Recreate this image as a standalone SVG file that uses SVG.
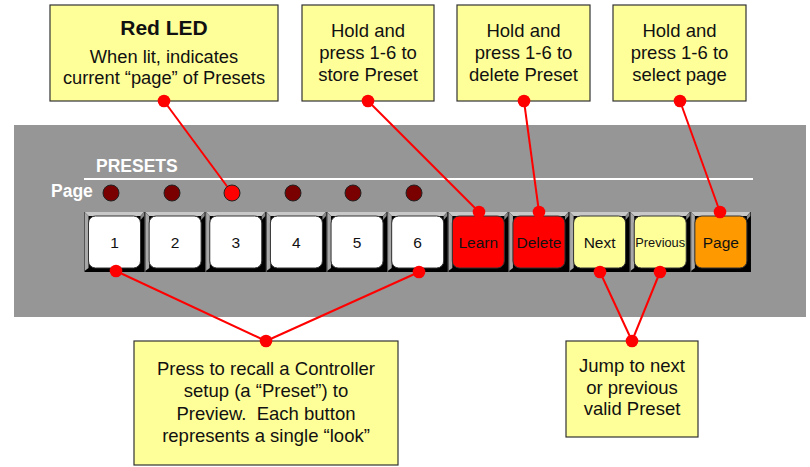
<svg xmlns="http://www.w3.org/2000/svg" width="810" height="467" viewBox="0 0 810 467">
<defs>
<style>
.box{fill:#ffff99;stroke:#333;stroke-width:1.2}
.t{font-family:"Liberation Sans",Arial,sans-serif;font-size:18.5px;fill:#111;text-anchor:middle}
.ts{font-family:"Liberation Sans",Arial,sans-serif;font-size:18.3px;fill:#111;text-anchor:middle}
.tb{font-family:"Liberation Sans",Arial,sans-serif;font-size:21px;font-weight:bold;fill:#111;text-anchor:middle}
.lbl{font-family:"Liberation Sans",Arial,sans-serif;font-weight:bold;fill:#fff;font-size:17.5px}
.bt{font-family:"Liberation Sans",Arial,sans-serif;font-size:15.5px;fill:#111;text-anchor:middle}
.led{fill:#7a0000;stroke:#222;stroke-width:1}
.conn line{stroke:#ff0000;stroke-width:2}
.dot{fill:#ff0000}
.btn{stroke:#333;stroke-width:1}
</style>
<g id="cell">
<rect x="0" y="212" width="60.6" height="60" fill="#000"/>
<polygon points="0.5,212 60,212 56.5,216 4.5,216" fill="#c8c8c8"/>
<polygon points="0.5,212 4.5,216 4.5,268 0.5,271" fill="#a8a8a8"/>
<polygon points="60,212 56.5,216 56.5,220 60,216" fill="#888"/>
<line x1="0.5" y1="212" x2="0.5" y2="272" stroke="#555" stroke-width="1"/>
</g>
</defs>
<rect width="810" height="467" fill="#fff"/>
<rect x="14" y="125" width="792" height="192" fill="#969696"/>
<line x1="84" y1="179" x2="753" y2="179" stroke="#fff" stroke-width="2"/>
<text class="lbl" x="96" y="172">PRESETS</text>
<text class="lbl" x="51" y="197">Page</text>
<g id="leds">
<circle class="led" cx="111" cy="193" r="8"/>
<circle class="led" cx="172" cy="193" r="8"/>
<circle class="led" cx="293" cy="193" r="8"/>
<circle class="led" cx="353" cy="193" r="8"/>
<circle class="led" cx="414" cy="193" r="8"/>
</g>
<g id="btn1" transform="translate(84,0)"><use href="#cell"/><rect class="btn" x="4.5" y="216" width="52" height="52" rx="7" fill="#fff"/><text class="bt" x="30.5" y="248">1</text></g>
<g id="btn2" transform="translate(144.64,0)"><use href="#cell"/><rect class="btn" x="4.5" y="216" width="52" height="52" rx="7" fill="#fff"/><text class="bt" x="30.5" y="248">2</text></g>
<g id="btn3" transform="translate(205.27,0)"><use href="#cell"/><rect class="btn" x="4.5" y="216" width="52" height="52" rx="7" fill="#fff"/><text class="bt" x="30.5" y="248">3</text></g>
<g id="btn4" transform="translate(265.91,0)"><use href="#cell"/><rect class="btn" x="4.5" y="216" width="52" height="52" rx="7" fill="#fff"/><text class="bt" x="30.5" y="248">4</text></g>
<g id="btn5" transform="translate(326.55,0)"><use href="#cell"/><rect class="btn" x="4.5" y="216" width="52" height="52" rx="7" fill="#fff"/><text class="bt" x="30.5" y="248">5</text></g>
<g id="btn6" transform="translate(387.18,0)"><use href="#cell"/><rect class="btn" x="4.5" y="216" width="52" height="52" rx="7" fill="#fff"/><text class="bt" x="30.5" y="248">6</text></g>
<g id="btnLearn" transform="translate(447.82,0)"><use href="#cell"/><rect class="btn" x="4.5" y="216" width="52" height="52" rx="7" fill="#ff0000"/><text class="bt" x="30.5" y="248">Learn</text></g>
<g id="btnDelete" transform="translate(508.45,0)"><use href="#cell"/><rect class="btn" x="4.5" y="216" width="52" height="52" rx="7" fill="#ff0000"/><text class="bt" x="30.5" y="248">Delete</text></g>
<g id="btnNext" transform="translate(569.09,0)"><use href="#cell"/><rect class="btn" x="4.5" y="216" width="52" height="52" rx="7" fill="#ffff99"/><text class="bt" x="30.5" y="248">Next</text></g>
<g id="btnPrevious" transform="translate(629.73,0)"><use href="#cell"/><rect class="btn" x="4.5" y="216" width="52" height="52" rx="7" fill="#ffff99"/><text class="bt" x="30.5" y="247" style="font-size:12.8px">Previous</text></g>
<g id="btnPage" transform="translate(690.36,0)"><use href="#cell"/><rect class="btn" x="4.5" y="216" width="52" height="52" rx="7" fill="#ff9900"/><text class="bt" x="30.5" y="248">Page</text></g>
<g id="callout-led"><rect class="box" x="50" y="5" width="228" height="96"/><text class="tb" x="164" y="35">Red LED</text><text class="ts" x="164" y="63">When lit, indicates</text><text class="ts" x="164" y="84">current “page” of Presets</text></g>
<g id="callout-store"><rect class="box" x="302" y="5" width="132" height="96"/><text class="t" x="368" y="37">Hold and</text><text class="t" x="368" y="59">press 1-6 to</text><text class="t" x="368" y="81">store Preset</text></g>
<g id="callout-delete"><rect class="box" x="457" y="5" width="133" height="96"/><text class="t" x="523.5" y="37">Hold and</text><text class="t" x="523.5" y="59">press 1-6 to</text><text class="t" x="523.5" y="81">delete Preset</text></g>
<g id="callout-page"><rect class="box" x="613" y="5" width="133" height="96"/><text class="t" x="679.5" y="37">Hold and</text><text class="t" x="679.5" y="59">press 1-6 to</text><text class="t" x="679.5" y="81">select page</text></g>
<g id="callout-recall"><rect class="box" x="134" y="341" width="264" height="124"/><text class="t" x="266" y="375">Press to recall a Controller</text><text class="t" x="266" y="397">setup (a “Preset”) to</text><text class="t" x="266" y="420" xml:space="preserve">Preview.  Each button</text><text class="t" x="266" y="442">represents a single “look”</text></g>
<g id="callout-jump"><rect class="box" x="566" y="341" width="132" height="96"/><text class="t" x="632" y="372">Jump to next</text><text class="t" x="632" y="394">or previous</text><text class="t" x="632" y="415">valid Preset</text></g>
<g class="conn" id="connectors">
<line x1="164" y1="101" x2="232" y2="193"/>
<line x1="368" y1="101" x2="479" y2="212"/>
<line x1="524" y1="101" x2="539" y2="212"/>
<line x1="680" y1="101" x2="720" y2="212"/>
<line x1="116" y1="271" x2="266" y2="341"/>
<line x1="419" y1="272" x2="266" y2="341"/>
<line x1="600" y1="272" x2="632" y2="341"/>
<line x1="660" y1="272" x2="632" y2="341"/>
<circle class="dot" cx="164" cy="101" r="6.3"/>
<circle class="dot" cx="368" cy="101" r="6.3"/>
<circle class="dot" cx="524" cy="101" r="6.3"/>
<circle class="dot" cx="680" cy="101" r="6.3"/>
<circle class="dot" cx="479" cy="212" r="6.3"/>
<circle class="dot" cx="539" cy="212" r="6.3"/>
<circle class="dot" cx="720" cy="212" r="6.3"/>
<circle class="dot" cx="116" cy="271" r="6.3"/>
<circle class="dot" cx="419" cy="272" r="6.3"/>
<circle class="dot" cx="600" cy="272" r="6.3"/>
<circle class="dot" cx="660" cy="272" r="6.3"/>
<circle class="dot" cx="266" cy="341" r="6.3"/>
<circle class="dot" cx="632" cy="341" r="6.3"/>
</g>
<circle id="led3" cx="232" cy="193" r="8" fill="#ff0000" stroke="#222" stroke-width="1"/>
</svg>
